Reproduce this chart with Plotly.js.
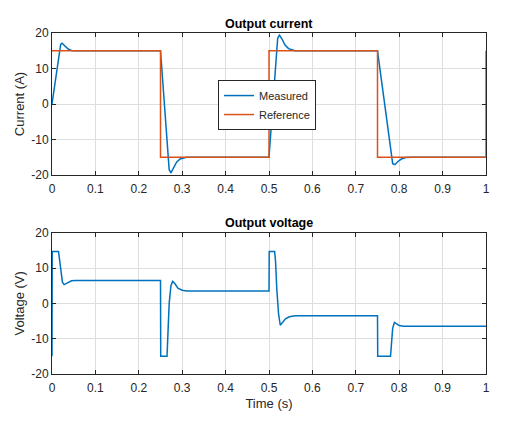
<!DOCTYPE html>
<html>
<head>
<meta charset="utf-8">
<script src="https://cdn.plot.ly/plotly-3.0.1.min.js"></script>
<style>html,body{margin:0;padding:0;background:#fff;}#chart{width:520px;height:423px;}</style>
</head>
<body>
<div id="chart"></div>
<script>
// Measured output current
const tMeas = [0, 0.005, 0.01, 0.015, 0.02, 0.023, 0.027, 0.032, 0.038, 0.045, 0.055,
  0.25, 0.255, 0.26, 0.265, 0.27, 0.274, 0.28, 0.287, 0.295, 0.31,
  0.5, 0.505, 0.51, 0.515, 0.52, 0.524, 0.53, 0.537, 0.545, 0.56,
  0.75, 0.76, 0.77, 0.78, 0.785, 0.79, 0.797, 0.805, 0.815, 0.83, 1.0];
const iMeas = [0, 4.5, 9, 13.5, 16.8, 17.1, 16.6, 15.9, 15.4, 15.1, 15,
  15, 6.5, -2, -10.5, -18.5, -19.4, -18, -16.4, -15.5, -15,
  -15, -6, 3, 12, 18.5, 19.4, 18.3, 16.6, 15.6, 15,
  15, 5.9, -3.2, -12.3, -16.8, -17.1, -16.2, -15.5, -15.1, -15, -15];
// Reference current (step)
const tRef = [0, 0.25, 0.5, 0.75, 1.0];
const iRef = [15, -15, 15, -15, 15];
// Output voltage
const tVolt = [0, 0.0005, 0.015, 0.017, 0.02, 0.024, 0.028, 0.032, 0.038, 0.045, 0.055,
  0.25, 0.2505, 0.265, 0.267, 0.27, 0.274, 0.278, 0.283, 0.29, 0.3, 0.31,
  0.5, 0.5005, 0.513, 0.515, 0.518, 0.522, 0.526, 0.531, 0.538, 0.547, 0.56,
  0.75, 0.7505, 0.78, 0.782, 0.785, 0.789, 0.794, 0.8, 0.81, 0.825, 1.0];
const vOut = [-15, 14.7, 14.7, 13, 9, 6, 5.3, 5.6, 6.1, 6.4, 6.5,
  6.5, -15, -15, -9, 0, 5, 6.2, 5.6, 4.3, 3.7, 3.5,
  3.5, 14.7, 14.7, 12, 4, -3, -6.2, -5.5, -4.4, -3.8, -3.5,
  -3.5, -15, -15, -12, -7, -5.4, -5.8, -6.3, -6.5, -6.5, -6.5];
// Tick labels
const xTickVals = [0, 0.1, 0.2, 0.3, 0.4, 0.5, 0.6, 0.7, 0.8, 0.9, 1];
const xTickText = ['0', '0.1', '0.2', '0.3', '0.4', '0.5', '0.6', '0.7', '0.8', '0.9', '1'];
const yTickVals = [-20, -10, 0, 10, 20];
const yTickText = ['-20', '-10', '0', '10', '20'];

const dark = '#262626';
const grid = '#dedede';
const fontFam = '"Liberation Sans", Arial, sans-serif';

function xa(anchor, showTitle) {
  const a = {
    anchor: anchor, range: [0, 1],
    tickmode: 'array', tickvals: xTickVals, ticktext: xTickText,
    showline: true, mirror: 'ticks', linecolor: dark, linewidth: 1,
    ticks: 'inside', ticklen: 4, tickcolor: dark, ticklabelstandoff: 3,
    showgrid: true, gridcolor: grid, zeroline: false,
    tickfont: {family: fontFam, size: 12, color: dark}
  };
  if (showTitle) a.title = {text: 'Time (s)', font: {family: fontFam, size: 13, color: dark}, standoff: 4};
  return a;
}
function ya(anchor, domain, title) {
  return {
    anchor: anchor, domain: domain, range: [-20, 20],
    tickmode: 'array', tickvals: yTickVals, ticktext: yTickText,
    showline: true, mirror: 'ticks', linecolor: dark, linewidth: 1,
    ticks: 'inside', ticklen: 4, tickcolor: dark,
    showgrid: true, gridcolor: grid, zeroline: false,
    tickfont: {family: fontFam, size: 12, color: dark},
    title: {text: title, font: {family: fontFam, size: 13, color: dark}, standoff: 3}
  };
}

const traces = [
  {x: tMeas, y: iMeas, type: 'scatter', mode: 'lines', name: 'Measured',
   line: {color: '#0072BD', width: 1.5}, xaxis: 'x', yaxis: 'y'},
  {x: tRef, y: iRef, type: 'scatter', mode: 'lines', name: 'Reference',
   line: {color: '#D95319', width: 1.5, shape: 'hv'}, xaxis: 'x', yaxis: 'y'},
  {x: tVolt, y: vOut, type: 'scatter', mode: 'lines', name: 'Voltage', showlegend: false,
   line: {color: '#0072BD', width: 1.5}, xaxis: 'x2', yaxis: 'y2'}
];

const layout = {
  width: 520, height: 423,
  margin: {l: 52, r: 34, t: 33, b: 49},
  paper_bgcolor: '#fff', plot_bgcolor: '#fff',
  font: {family: fontFam, color: dark},
  xaxis: xa('y', false),
  yaxis: ya('x', [0.5836, 1], 'Current (A)'),
  xaxis2: xa('y2', true),
  yaxis2: ya('x2', [0, 0.4144], 'Voltage (V)'),
  showlegend: true,
  legend: {x: 0.3825, y: 0.862, xanchor: 'left', yanchor: 'top',
    bgcolor: '#fff', bordercolor: dark, borderwidth: 1,
    font: {family: fontFam, size: 11, color: dark}, itemwidth: 30,
    tracegroupgap: 0},
  annotations: [
    {text: '<b>Output current</b>', xref: 'paper', yref: 'paper', x: 0.5, y: 1.026,
     xanchor: 'center', yanchor: 'middle', showarrow: false,
     font: {family: fontFam, size: 12.5, color: '#000'}},
    {text: '<b>Output voltage</b>', xref: 'paper', yref: 'paper', x: 0.5, y: 0.4437,
     xanchor: 'center', yanchor: 'middle', showarrow: false,
     font: {family: fontFam, size: 12.5, color: '#000'}}
  ]
};

Plotly.newPlot('chart', traces, layout, {displayModeBar: false, staticPlot: true});
</script>
</body>
</html>
